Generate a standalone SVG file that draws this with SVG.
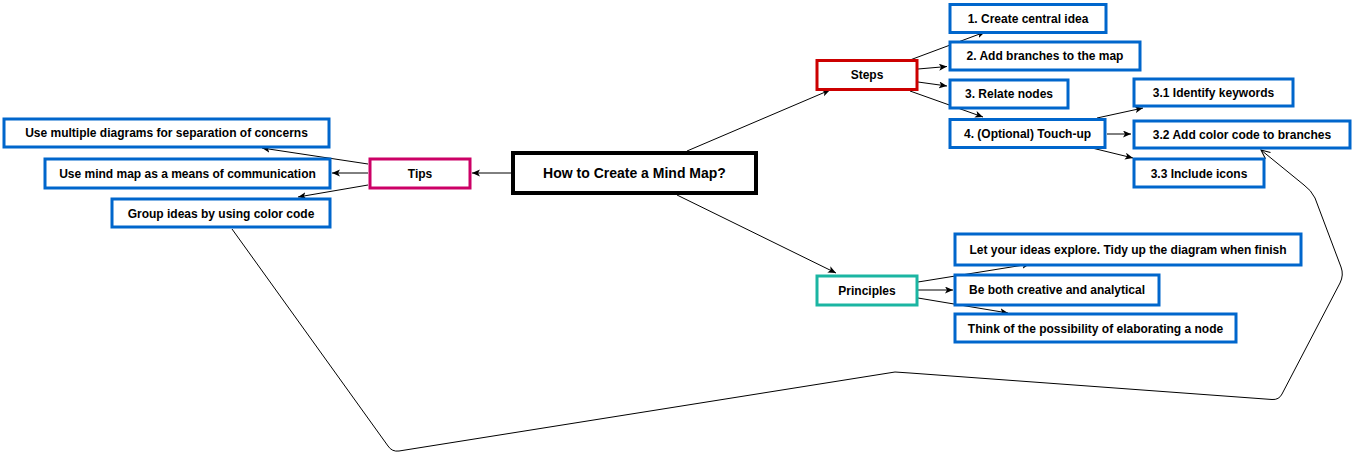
<svg xmlns="http://www.w3.org/2000/svg" width="1355" height="462" viewBox="0 0 1355 462">
<defs>
<style>
.n{fill:#fff;stroke:#0066CC;stroke-width:3}
.t{font-family:"Liberation Sans",Arial,sans-serif;font-weight:bold;font-size:12px;fill:#000;text-anchor:middle}
.e{fill:none;stroke:#000;stroke-width:1}
</style>
<marker id="a" markerUnits="userSpaceOnUse" markerWidth="10" markerHeight="8" refX="8" refY="3.5" orient="auto">
<path d="M0,0 L8,3.5 L0,7 L2,3.5 Z" fill="#000"/>
</marker>
<marker id="o" markerUnits="userSpaceOnUse" markerWidth="12" markerHeight="10" refX="9" refY="4" orient="auto">
<path d="M0,0 L9,4 L0,8" fill="none" stroke="#000" stroke-width="1"/>
</marker>
</defs>
<rect width="1355" height="462" fill="#fff"/>
<g id="connectors">
<path class="e" d="M687,151 L830,90" marker-end="url(#a)"/>
<path class="e" d="M677,195 L836,273" marker-end="url(#a)"/>
<path class="e" d="M511,173 L472,173" marker-end="url(#a)"/>
<path class="e" d="M910,60 L985,32" marker-end="url(#a)"/>
<path class="e" d="M918,69 L947,66.5" marker-end="url(#a)"/>
<path class="e" d="M918,82 L947,86" marker-end="url(#a)"/>
<path class="e" d="M910,91 L983,117" marker-end="url(#a)"/>
<path class="e" d="M1097,118 L1143,108" marker-end="url(#a)"/>
<path class="e" d="M1107,134 L1131,134" marker-end="url(#a)"/>
<path class="e" d="M1092,148 L1133,158" marker-end="url(#a)"/>
<path class="e" d="M368,164 L262,148" marker-end="url(#a)"/>
<path class="e" d="M368,173 L332,173" marker-end="url(#a)"/>
<path class="e" d="M368,185 L298,197" marker-end="url(#a)"/>
<path class="e" d="M918,282 L1030,264" marker-end="url(#a)"/>
<path class="e" d="M918,290 L953,290" marker-end="url(#a)"/>
<path class="e" d="M918,298 L1008,313" marker-end="url(#a)"/>
<path class="e" d="M232,229 L388,446 Q392,452 399,451 L895,372 L910,373 L1272,399.5 Q1279,400 1282,394 L1340,283 Q1344,275 1341,267 L1315,198 Q1311,190 1304,185 L1261,150" marker-end="url(#o)"/>
</g>
<g id="central">
<rect x="513" y="153" width="243" height="40" fill="#fff" stroke="#000" stroke-width="4"/>
<text x="634.5" y="178" class="t" style="font-size:14px">How to Create a Mind Map?</text>
</g>
<g id="steps">
<rect x="817" y="60.5" width="100" height="29" fill="#fff" stroke="#CC0000" stroke-width="3"/>
<text x="867" y="79" class="t">Steps</text>
</g>
<g id="step1">
<rect x="950" y="4.5" width="156" height="28" class="n"/>
<text x="1028" y="22.5" class="t">1. Create central idea</text>
</g>
<g id="step2">
<rect x="950" y="42" width="190" height="28" class="n"/>
<text x="1045" y="60" class="t">2. Add branches to the map</text>
</g>
<g id="step3">
<rect x="950" y="80" width="118" height="28" class="n"/>
<text x="1009" y="98" class="t">3. Relate nodes</text>
</g>
<g id="step4">
<rect x="950" y="119.5" width="155" height="28" class="n"/>
<text x="1027.5" y="137.5" class="t">4. (Optional) Touch-up</text>
</g>
<g id="step31">
<rect x="1134" y="79" width="159" height="27" class="n"/>
<text x="1213.5" y="97" class="t">3.1 Identify keywords</text>
</g>
<g id="step32">
<rect x="1134" y="121" width="216" height="27" class="n"/>
<text x="1242" y="138.5" class="t">3.2 Add color code to branches</text>
</g>
<g id="step33">
<rect x="1134" y="159" width="130" height="28" class="n"/>
<text x="1199" y="177.5" class="t">3.3 Include icons</text>
</g>
<g id="tips">
<rect x="370" y="159" width="100" height="29" fill="#fff" stroke="#CC0066" stroke-width="3"/>
<text x="420" y="177.5" class="t">Tips</text>
</g>
<g id="tip1">
<rect x="4" y="119" width="325" height="28" class="n"/>
<text x="166.5" y="137" class="t">Use multiple diagrams for separation of concerns</text>
</g>
<g id="tip2">
<rect x="45" y="159" width="285" height="29" class="n"/>
<text x="187.5" y="177.5" class="t">Use mind map as a means of communication</text>
</g>
<g id="tip3">
<rect x="112" y="199" width="218" height="28" class="n"/>
<text x="221" y="217.5" class="t">Group ideas by using color code</text>
</g>
<g id="principles">
<rect x="817" y="276" width="100" height="29" fill="#fff" stroke="#1BB5A2" stroke-width="3"/>
<text x="867" y="294.5" class="t">Principles</text>
</g>
<g id="p1">
<rect x="955" y="234" width="346" height="31" class="n"/>
<text x="1128" y="253.5" class="t">Let your ideas explore. Tidy up the diagram when finish</text>
</g>
<g id="p2">
<rect x="955" y="275" width="204" height="30" class="n"/>
<text x="1057" y="294" class="t">Be both creative and analytical</text>
</g>
<g id="p3">
<rect x="955" y="314" width="281" height="28" class="n"/>
<text x="1095.5" y="332.5" class="t">Think of the possibility of elaborating a node</text>
</g>
</svg>
